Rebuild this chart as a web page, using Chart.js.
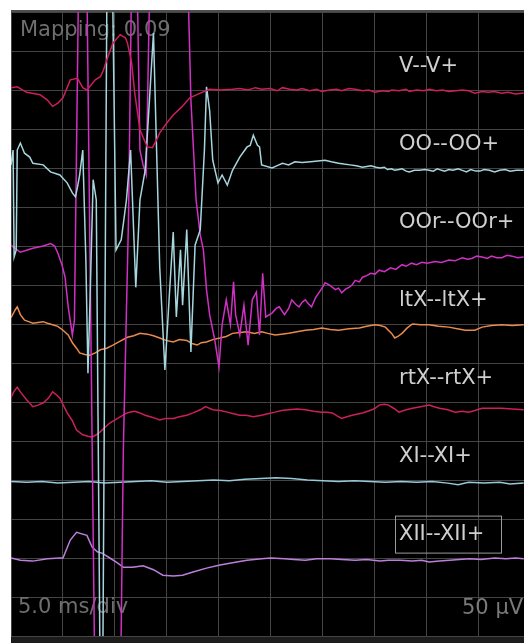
<!DOCTYPE html>
<html>
<head>
<meta charset="utf-8">
<script src="https://cdn.jsdelivr.net/npm/chart.js@4.4.1/dist/chart.umd.min.js"></script>
<style>
  html, body { margin: 0; padding: 0; background: #fff; overflow: hidden; }
  #wrap { position: relative; width: 524px; height: 643px; }
</style>
</head>
<body>
<div id="wrap"><canvas id="emgChart"></canvas></div>
<script>
// Channel names and their baselines on the shared µV axis (50 µV per division)
const channelNames = ['V--V+', 'OO--OO+', 'OOr--OOr+', 'ltX--ltX+', 'rtX--rtX+', 'XI--XI+', 'XII--XII+'];
const channelOffsets = [700, 600, 500, 400, 300, 200, 100];
const channelColors = ['#cc1f5e', '#a6d6de', '#d030c4', '#ea8a4c', '#cc1f5e', '#96cad8', '#bd7fdc'];

// Time axis: 5.0 ms per division
const timeTicks = [0, 5, 10, 15, 20, 25, 30, 35, 40, 45];
const timeMax = 49.33;

// V--V+ (time in ms, amplitude in µV relative to baseline)
const vTimes = [0, 0.6, 1.5, 2.8, 3.5, 4.0, 4.5, 5.0, 5.7, 6.4, 6.9, 7.3, 8.1, 8.6, 8.9, 9.2, 9.8, 10.5, 11.0, 11.2, 11.6, 11.9, 12.4, 13.1, 13.6, 14.0, 14.3, 15.0, 15.6, 16.4, 17.2, 18.2, 19.1,
  20.2, 21.3, 22.0, 22.8, 23.5, 24.1, 24.9, 25.6, 26.1, 26.8, 27.5, 28.0, 28.7, 29.4, 29.9, 30.6, 31.3, 31.8, 32.5, 33.1, 33.8, 34.4, 35.0, 35.7, 36.3, 36.6, 37.3, 38.0, 38.3, 39.0, 39.7, 40.2, 40.9, 41.5, 42.1, 42.8, 43.4, 44.0, 44.6, 45.3, 45.9, 46.5, 47.2, 47.8, 48.5, 49.3];
const vUv = [3, 4, -3, -6, -13, -21, -17, -10, 13, 15, 3, 0, 13, 17, 26, 38, 60, 71, 67, 60, 35, -4, -51, -73, -74, -64, -55, -42, -32, -22, -10, -4, 1,
  0, 1, 2, 0, 3, 1, 2, -1, 3, 1, 0, 2, -1, 1, -2, 0, 1, -1, 2, 1, -1, 0, -3, -1, -2, 0, -1, 1, -2, 0, -1, 1, -1, 0, -2, -1, 0, -1, -4, -2, -3, -2, -4, -3, -5, -4];

// OO--OO+
const ooTimes = [0, 0.2, 0.3, 0.5, 0.6, 0.9, 1.3, 1.8, 2.1, 3.1, 3.8, 4.7, 5.4, 5.9, 6.2, 6.4, 6.6, 6.9, 7.2, 7.4, 7.6, 7.9, 8.2, 8.6, 8.8, 9.3, 9.6, 10.1, 10.6, 11.1, 11.5, 12.0, 12.4, 12.9, 13.2, 13.7, 14.0, 14.3, 14.8, 15.2, 15.6, 15.9, 16.3, 16.5, 16.9, 17.3, 17.7, 18.2, 18.6, 18.8, 19.1, 19.4, 19.9, 20.3, 20.8, 21.3, 22.0, 22.7, 23.0, 23.3, 23.7, 23.9, 24.1,
  25.1, 25.6, 26.1, 26.7, 27.3, 28.0, 28.8, 29.5, 30.2, 30.8, 31.5, 32.0, 32.6, 33.2, 33.8, 34.2, 34.6, 35.1, 35.5, 35.9, 36.2, 36.6, 36.9, 37.3, 37.6, 38.0, 38.3, 38.8, 39.3, 39.8,
  40.2, 40.6, 41.0, 41.4, 41.7, 42.1, 42.5, 43.0, 43.4, 43.8, 44.2, 44.7, 45.1, 45.5, 46.0, 46.5, 47.0, 47.5, 48.0, 48.6, 49.3];
const ooUv = [4, 23, -114, -105, 23, 32, 19, 14, 6, 4, -5, -9, -19, -32, -37, -24, -9, 23, -118, -263, -169, -15, -41, -700, -700, 400, 400, -105, -92, -41, 23, -153, -41, -3, 62, 173, 23, -127, -259, -169, -82, -191, -105, -176, -79, -236, -99, -79, 23, 104, 74, 10, -19, -9, -22, -3, 14, 27, 29, 42, 29, 27, 4,
  0, 3, 6, 4, 8, 7, 8, 9, 10, 8, 6, 5, 4, 3, 1, 2, 3, 1, 0, 1, -2, -1, -3, -2, -1, -4, -5, -3, -3, -2,
  -3, -4, -1, -3, -4, -2, -3, -1, -3, -5, -2, -4, -4, -2, -3, -5, -3, -2, -4, -3, -3];

// OOr--OOr+
const oorTimes = [0, 0.9, 2.1, 3.1, 3.8, 4.2, 4.5, 4.9, 5.2, 5.5, 5.9, 6.1, 6.6, 7.2, 8.1, 10.5, 10.8, 11.3, 11.7, 12.0, 12.4, 12.7, 13.0, 13.5, 16.8, 17.3, 17.8, 18.2, 18.5, 18.8, 19.1, 19.6, 20.0, 20.3, 20.7, 21.1, 21.4, 21.6, 22.0, 22.4, 22.8, 23.2, 23.6, 23.9, 24.2, 24.5,
  25.1, 25.5, 25.8, 26.3, 26.7, 27.0, 27.4, 27.7, 28.0, 28.3, 28.6, 28.9, 29.3, 29.6, 30.0, 30.2, 30.6, 31.2, 31.5, 31.8, 32.2, 32.5, 32.8, 33.1, 33.5, 33.8, 34.2, 34.6, 35.0, 35.4,
  35.9, 36.5, 37.0, 37.6, 38.0, 38.5, 39.0, 39.5, 40.0, 40.8, 41.4, 42.1, 42.7, 43.4, 43.9, 44.3, 44.8, 45.3, 45.8, 46.2, 46.7, 47.2, 47.7, 48.2, 48.7, 49.3];
const oorUv = [1, -8, -3, 0, 3, 0, -9, -24, -40, -78, -114, -95, 450, 450, -600, -600, -262, 36, 450, 450, 123, 104, 91, 450, 450, 187, 59, 14, -5, -56, -88, -121, -155, -101, -69, -101, -46, -88, -114, -76, -127, -69, -59, -114, -35, -91,
  -86, -80, -78, -88, -80, -69, -75, -78, -72, -69, -74, -78, -66, -60, -52, -47, -50, -56, -54, -60, -55, -53, -50, -44, -46, -40, -38, -35, -36, -31,
  -33, -28, -30, -24, -26, -22, -24, -21, -22, -20, -21, -18, -19, -15, -17, -16, -13, -14, -16, -13, -15, -15, -12, -13, -15, -14];

// ltX--ltX+
const ltxTimes = [0, 0.4, 0.6, 0.9, 1.3, 1.7, 2.1, 2.6, 3.1, 3.5, 4.0, 4.5, 5.0, 5.5, 5.9, 6.3, 6.6, 7.1, 7.6, 8.1, 8.6, 9.2, 9.8, 10.5, 11.2, 11.8, 12.4, 13.1, 13.7, 14.3,
  14.9, 15.6, 16.2, 16.9, 17.4, 17.9, 18.3, 18.8, 19.4, 20.1, 20.7, 21.3, 22.0, 22.7, 23.4, 24.1, 24.7, 25.4, 26.0, 26.7, 27.5, 28.3, 29.1, 29.9, 30.7, 31.5, 32.5, 33.5, 34.2, 35.0,
  35.5, 36.0, 36.6, 36.9, 37.2, 37.6, 38.1, 38.6, 39.4, 40.2, 41.1, 42.1, 42.9, 43.7, 44.6, 45.3, 46.2, 47.2, 48.2, 49.3];
const ltxUv = [8, 18, 22, 12, 5, 3, 1, 2, 3, 1, -1, -3, -8, -14, -24, -31, -37, -39, -40, -37, -33, -31, -27, -22, -17, -15, -12, -13, -15, -18,
  -21, -23, -20, -21, -25, -27, -24, -23, -20, -18, -16, -12, -11, -10, -12, -10, -12, -14, -13, -12, -10, -8, -7, -5, -7, -8, -6, -5, -3, -1,
  -2, -4, -12, -18, -16, -12, -5, 0, -1, -1, -3, -4, -6, -8, -8, -4, -2, -1, -2, -1];

// rtX--rtX+
const rtxTimes = [0, 0.3, 0.6, 0.9, 1.5, 2.1, 2.6, 3.1, 3.6, 4.0, 4.4, 4.7, 5.4, 5.9, 6.3, 6.9, 7.4, 7.8, 8.2, 8.6, 9.0, 9.5, 10.0, 10.5, 11.0, 11.4, 11.9, 12.4, 12.9, 13.4,
  13.9, 14.3, 14.9, 15.6, 16.2, 16.9, 17.5, 18.2, 18.7, 19.4, 20.1, 20.8, 21.4, 22.0, 22.6, 23.3, 24.1, 24.7, 25.4, 26.0, 26.7, 27.5, 28.3, 29.1, 29.9, 30.4, 30.9, 31.4, 31.8, 32.3,
  32.8, 33.8, 34.7, 35.0, 35.4, 35.9, 36.3, 36.8, 37.3, 38.0, 38.6, 39.4, 40.2, 40.7, 41.2, 42.0, 42.7, 43.4, 44.0, 44.6, 45.3, 46.2, 47.2, 48.2, 49.3];
const rtxUv = [6, 14, 19, 13, 3, -6, -4, -1, 5, 13, 9, 5, -14, -24, -36, -42, -44, -45, -42, -38, -33, -27, -23, -19, -15, -13, -12, -14, -17, -19,
  -21, -23, -21, -21, -19, -17, -14, -10, -6, -10, -11, -13, -15, -17, -17, -19, -17, -15, -13, -11, -10, -9, -10, -12, -13, -13, -14, -18, -21, -19,
  -17, -14, -10, -8, -4, -3, -4, -8, -13, -10, -8, -6, -4, -6, -8, -10, -13, -12, -13, -11, -8, -8, -8, -9, -10];

// XI--XI+
const xiTimes = [0, 1.5, 3, 4.5, 6, 7.5, 9, 10.5, 12, 13.5, 15, 16.5, 18, 19.5, 21, 22.5, 24, 25.5, 27, 28.5, 30, 31.5, 33, 34.5, 36, 37.5, 39, 40.5, 42, 43, 44, 45.5, 47, 48, 49.3];
const xiUv = [-2, -3, -2, -4, -3, -2, -4, -3, -2, -1, -3, -2, -1, 0, -1, 1, 2, 3, 2, 0, -1, -2, -1, -2, -3, -2, -3, -2, -4, -6, -3, -4, -3, -5, -4];

// XII--XII+
const xiiTimes = [0, 0.9, 2.1, 3.5, 4.7, 5.0, 5.7, 6.3, 7.3, 7.8, 8.3, 8.8, 9.5, 10.2, 10.8, 11.7, 12.7, 13.7, 14.6, 15.6, 16.5, 17.5, 18.8, 20.1, 21.3, 22.7,
  24.1, 25.0, 26.3, 27.2, 28.3, 29.4, 30.7, 31.8, 33.1, 34.2, 35.5, 36.3, 37.4, 38.6, 39.5, 40.2, 41.2, 42.2, 43.1, 44.1, 45.2, 46.5, 47.6, 48.5, 49.3];
const xiiUv = [0, -3, -4, -1, 0, 0, 23, 33, 29, 14, 8, 6, 0, -6, -12, -12, -10, -15, -22, -23, -22, -18, -13, -9, -6, -3,
  -1, 0, -1, -2, -3, -1, -1, -2, -3, -2, -4, -3, -3, -4, -3, -5, -4, -3, -2, -1, -2, 0, -1, 0, -1];

const traceTimes = [vTimes, ooTimes, oorTimes, ltxTimes, rtxTimes, xiTimes, xiiTimes];
const traceValues = [vUv, ooUv, oorUv, ltxUv, rtxUv, xiUv, xiiUv];

const datasets = channelNames.map((name, i) => ({
  label: name,
  data: traceTimes[i].map((t, k) => ({ x: t, y: channelOffsets[i] + traceValues[i][k] })),
  borderColor: channelColors[i],
  borderWidth: 1.5,
  pointRadius: 0,
  tension: 0,
  clip: 0
}));

// black screen, white margin and dark frame strips
const screenBg = {
  id: 'screenBg',
  beforeDraw(chart) {
    const { ctx, chartArea: a, width, height } = chart;
    ctx.save();
    ctx.fillStyle = '#ffffff';
    ctx.fillRect(0, 0, width, height);
    ctx.fillStyle = '#000000';
    ctx.fillRect(a.left, a.top, a.right - a.left, a.bottom - a.top);
    ctx.fillStyle = '#1c1c1c';
    ctx.fillRect(a.left, a.bottom, width - a.left, height - a.bottom);
    ctx.fillStyle = '#4d4d4d';
    ctx.fillRect(a.left, a.top - 2, width - a.left, 2);
    ctx.restore();
  }
};

// channel labels and screen annotations, drawn under the traces
const screenText = {
  id: 'screenText',
  beforeDatasetsDraw(chart) {
    const { ctx, chartArea: a, scales } = chart;
    const y = scales.y;
    ctx.save();
    ctx.font = '21px "DejaVu Sans"';
    ctx.textBaseline = 'middle';
    ctx.fillStyle = '#cfcfcf';
    channelNames.forEach((name, i) => {
      const ty = y.getPixelForValue(channelOffsets[i] + 30);
      ctx.fillText(name, 399, ty);
      if (i === channelNames.length - 1) {
        ctx.strokeStyle = '#9a9a9a';
        ctx.lineWidth = 1;
        ctx.strokeRect(395.5, ty - 18.5, 106, 37);
      }
    });
    ctx.fillStyle = '#6e6e6e';
    ctx.fillText('Mapping: 0.09', 20, a.top + 19);
    ctx.fillText('5.0 ms/div', 18, y.getPixelForValue(37));
    ctx.fillStyle = '#7a7a7a';
    ctx.fillText('50 \u00b5V', 462, y.getPixelForValue(35));
    ctx.restore();
  }
};

new Chart(document.getElementById('emgChart'), {
  type: 'line',
  data: { datasets: datasets },
  plugins: [screenBg, screenText],
  options: {
    responsive: true,
    maintainAspectRatio: false,
    animation: false,
    layout: { padding: { left: 11, top: 12, right: 0, bottom: 7 } },
    plugins: { legend: { display: false }, tooltip: { enabled: false } },
    scales: {
      x: {
        type: 'linear',
        min: 0,
        max: timeMax,
        afterBuildTicks: (scale) => { scale.ticks = timeTicks.map(v => ({ value: v })); },
        ticks: { display: false },
        grid: { color: '#444444', lineWidth: 1, drawTicks: false },
        border: { display: false }
      },
      y: {
        min: 0,
        max: 800,
        ticks: { display: false, stepSize: 50 },
        grid: { color: '#444444', lineWidth: 1, drawTicks: false },
        border: { display: false }
      }
    }
  }
});
</script>
</body>
</html>
